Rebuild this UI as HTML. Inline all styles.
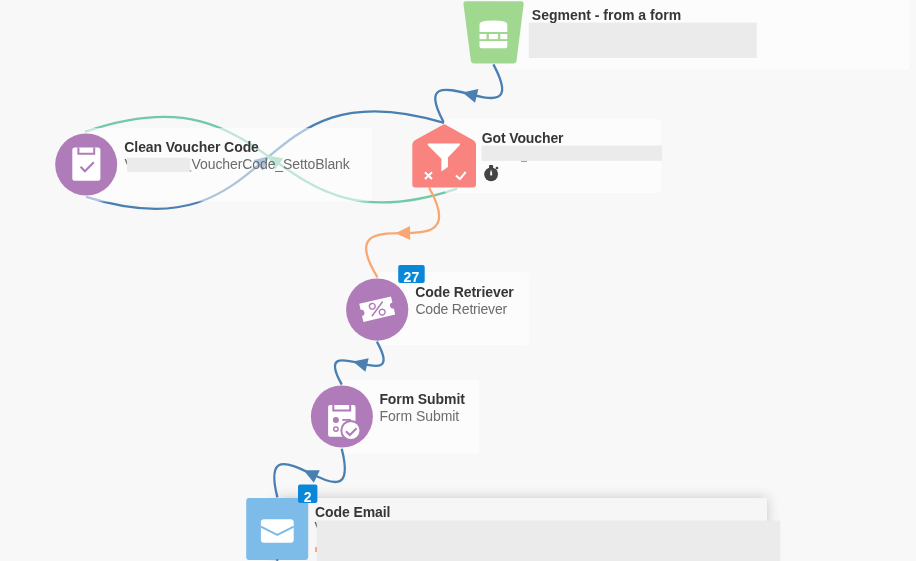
<!DOCTYPE html>
<html><head><meta charset="utf-8">
<style>
html,body{margin:0;padding:0;width:916px;height:561px;overflow:hidden;background:#f8f8f8;}
svg{position:absolute;left:0;top:0;will-change:transform;}
text{font-family:"Liberation Sans",sans-serif;font-size:14px;}
.b{font-weight:bold;fill:#363636;}
.r{fill:#6c6c6c;}
#email-card{position:absolute;z-index:2;left:277px;top:498px;width:490px;height:90px;background:#f6f6f6;box-shadow:0 0 12px rgba(0,0,0,0.2);}
</style></head>
<body>
<svg width="916" height="561" viewBox="0 0 916 561" style="z-index:1">
<!-- cards -->
<g fill="#ffffff" fill-opacity="0.55">
<rect x="493" y="-3" width="416.6" height="72.8" rx="4"/>
<rect x="377" y="272.2" width="152" height="72.9" rx="4"/>
<rect x="342" y="380" width="137.4" height="73.7" rx="4"/>
</g>
<path d="M493.4,64.4 C537.2,146.4 400.8,41.9 443.7,122.4" fill="none" stroke="#4a7fb1" stroke-width="2.3"/><polygon points="462.6,92.4 478.4,89.1 475.0,102.7" fill="#4a7fb1"/>
<path d="M86.1,196.9 C282.8,258.3 245.3,62.4 444.1,122.9" fill="none" stroke="#4a7fb1" stroke-width="2.3"/><polygon points="269.2,156.1 262.7,170.8 253.6,160.1" fill="#4a7fb1"/>
<path d="M457.2,188.6 C262.0,254.0 284.0,63.9 85.6,131.7" fill="none" stroke="#72c9a6" stroke-width="2.3"/><polygon points="267.3,155.5 283.2,158.2 275.1,169.6" fill="#72c9a6"/>
<rect x="444" y="118.7" width="217.4" height="74.3" rx="4" fill="#fff" fill-opacity="0.55"/>
<path d="M429.0,187.5 C479.5,276.9 323.7,189.8 377.5,277.4" fill="none" stroke="#f9a670" stroke-width="2.3"/><polygon points="395.6,233.2 410.0,226.0 410.2,240.0" fill="#f9a670"/>
<path d="M376.9,341.6 C409.9,401.1 308.4,325.1 341.8,384.6" fill="none" stroke="#4a7fb1" stroke-width="2.3"/><polygon points="352.9,361.6 368.7,358.2 365.4,371.8" fill="#4a7fb1"/>
<path d="M341.7,448.7 C364.8,538.9 254.3,407.2 277.4,497.4" fill="none" stroke="#4a7fb1" stroke-width="2.3"/><polygon points="303.7,470.3 319.8,470.2 313.8,482.8" fill="#4a7fb1"/>
<rect x="86" y="128" width="286" height="73.5" rx="4" fill="#fff" fill-opacity="0.55"/>
</svg>
<div id="email-card"></div>
<svg width="916" height="561" viewBox="0 0 916 561" style="z-index:3">
<!-- artifacts -->
<text class="r" x="124.6" y="169.2">V</text>
<text x="314.6" y="532" style="font-size:14px;fill:#555">V</text>
<rect x="315.2" y="547" width="2" height="5" fill="#f39a66"/>
<rect x="521" y="160.6" width="6" height="1.2" fill="#8a8a8a"/>
<!-- gray boxes -->
<g fill="#ebebeb">
<rect x="528.8" y="22.6" width="228" height="35.4"/>
<rect x="481.5" y="145.5" width="180.6" height="15.4"/>
<rect x="127" y="157.8" width="63.2" height="14.1"/>
<rect x="316.8" y="520.6" width="463.6" height="45"/>
</g>
<!-- texts -->
<text class="b" x="531.8" y="19.9">Segment - from a form</text>
<text class="b" x="481.8" y="143.1" textLength="81.7" lengthAdjust="spacing">Got Voucher</text>
<text class="b" x="124.3" y="152" textLength="134.6" lengthAdjust="spacing">Clean Voucher Code</text>
<text class="r" x="191.6" y="169.2" textLength="158.2" lengthAdjust="spacing">VoucherCode_SettoBlank</text>
<rect x="189.8" y="170.3" width="1.6" height="1.3" fill="#999"/>
<text class="b" x="415.2" y="297.4" textLength="98.6" lengthAdjust="spacing">Code Retriever</text>
<text class="r" x="415.4" y="314" textLength="91.8" lengthAdjust="spacing">Code Retriever</text>
<text class="b" x="379.4" y="403.7" textLength="85.5" lengthAdjust="spacing">Form Submit</text>
<text class="r" x="379.6" y="421" textLength="79.6" lengthAdjust="spacing">Form Submit</text>
<text class="b" x="315" y="516.9" textLength="75.5" lengthAdjust="spacing">Code Email</text>

<!-- Segment trapezoid -->
<path d="M466.10,1.30 L521.00,1.30 Q524.00,1.30 523.63,4.28 L516.57,60.42 Q516.20,63.40 513.20,63.40 L474.20,63.40 Q471.20,63.40 470.81,60.43 L463.49,4.27 Q463.10,1.30 466.10,1.30 Z" fill="#a1d88f"/>
<g fill="#fff">
<path d="M479.5,32 L479.5,24.5 Q479.5,20.5 493.4,20.5 Q507.3,20.5 507.3,24.5 L507.3,32 Z"/>
<rect x="479.5" y="34" width="7" height="5.1"/>
<rect x="488.9" y="34" width="9.1" height="5.1"/>
<rect x="500.3" y="34" width="7" height="5.1"/>
<path d="M479.5,41.1 L507.3,41.1 L507.3,46.2 Q507.3,48.2 505.3,48.2 L481.5,48.2 Q479.5,48.2 479.5,46.2 Z"/>
</g>

<!-- Got Voucher house -->
<path d="M445.17,124.49 L472.94,139.90 Q476.00,141.60 476.00,145.10 L476.00,184.50 Q476.00,187.50 473.00,187.50 L415.30,187.50 Q412.30,187.50 412.30,184.50 L412.30,145.10 Q412.30,141.60 415.37,139.91 L443.42,124.48 Q444.30,124.00 445.17,124.49 Z" fill="#f9847f"/>
<g fill="#fff">
<path d="M427.8,143.5 L459.9,143.5 L459.9,145.1 L447.9,157.5 L447.9,167.1 L441.4,171.6 L441.4,158.8 L427.8,145.2 Z"/>
</g>
<g stroke="#fff" stroke-width="2" fill="none">
<path d="M425,172.2 L432,179 M432,172.2 L425,179"/>
<path d="M455.9,175.6 L459.9,179.1 L465.7,172"/>
</g>
<!-- stopwatch -->
<defs><linearGradient id="hand" x1="0" y1="0" x2="0" y2="1"><stop offset="0" stop-color="#fff" stop-opacity="0"/><stop offset="0.6" stop-color="#fff" stop-opacity="1"/><stop offset="1" stop-color="#fff"/></linearGradient></defs>
<g fill="#444">
<circle cx="491.1" cy="174.3" r="6.9"/>
<rect x="489" y="164.9" width="4.1" height="5" rx="0.8"/>
<circle cx="497" cy="168" r="1.35"/>
<path d="M495.2,168.6 L497.3,170.7 L495.5,172.3 L493.6,170.2 Z"/>
</g>
<rect x="490.2" y="169.2" width="1.9" height="6.2" fill="url(#hand)"/>
<!-- circles -->
<g fill="#b07bb9">
<circle cx="86.2" cy="164.5" r="31"/>
<circle cx="377.2" cy="309.6" r="31.1"/>
<circle cx="341.9" cy="416.5" r="31"/>
</g>
<!-- clipboard -->
<rect x="72.3" y="147.6" width="28.1" height="33.1" rx="2.5" fill="#fff"/>
<path d="M78.4,147.6 L78.4,153.8 L94.2,153.8 L94.2,147.6" fill="none" stroke="#b07bb9" stroke-width="2"/>
<path d="M80.6,166.8 L84.9,171.2 L93.8,162.2" fill="none" stroke="#b07bb9" stroke-width="2.2"/>

<!-- ticket -->
<g transform="translate(377.2,309.2) rotate(-13)">
<path d="M-16.3,-9.3 L16.3,-9.3 L16.3,-3.1 A3.1,3.1 0 0 0 16.3,3.1 L16.3,9.3 L-16.3,9.3 L-16.3,3.1 A3.1,3.1 0 0 0 -16.3,-3.1 Z" fill="#fff"/>
<circle cx="-4.1" cy="-3.9" r="2.9" fill="none" stroke="#b07bb9" stroke-width="1.4"/>
<circle cx="4.2" cy="4" r="2.9" fill="none" stroke="#b07bb9" stroke-width="1.4"/>
<path d="M6.6,-5.8 L-6.3,5.2" stroke="#b07bb9" stroke-width="1.5" stroke-linecap="round"/>
</g>

<!-- form submit icon -->
<rect x="328.1" y="404.9" width="27.4" height="31.9" rx="2" fill="#fff"/>
<path d="M333.3,404.9 L333.3,410.6 L350.2,410.6 L350.2,404.9" fill="none" stroke="#b07bb9" stroke-width="2"/>
<circle cx="335.9" cy="419.9" r="3" fill="#b07bb9"/>
<rect x="342.3" y="419" width="8.6" height="1.8" fill="#b07bb9"/>
<circle cx="335.9" cy="429.1" r="2.2" fill="none" stroke="#b07bb9" stroke-width="1.5"/>
<circle cx="350.9" cy="430.5" r="10.5" fill="#b07bb9"/>
<circle cx="350.9" cy="430.5" r="8.6" fill="#fff"/>
<path d="M346,431.2 L349.8,435 L356.6,428.2" fill="none" stroke="#b07bb9" stroke-width="2"/>

<!-- email -->
<rect x="246.2" y="498" width="62" height="62" rx="3" fill="#7dbbe9"/>
<rect x="276.3" y="559" width="2" height="3" fill="#4a7fb1"/>
<rect x="260.9" y="519.3" width="32.8" height="23.5" rx="3" fill="#fff"/>
<path d="M260.9,526.6 L277.3,534.8 L293.7,526.6" fill="none" stroke="#7dbbe9" stroke-width="2"/>

<!-- badges -->
<rect x="398.2" y="264.9" width="26.5" height="18" rx="2" fill="#0a87d9"/>
<text x="411.4" y="282.2" text-anchor="middle" style="font-weight:bold;font-size:14px;fill:#fff">27</text>
<rect x="298" y="484.5" width="19.4" height="18.4" rx="2" fill="#0a87d9"/>
<text x="307.7" y="501.5" text-anchor="middle" style="font-weight:bold;font-size:14px;fill:#fff">2</text>
</svg>
</body></html>
